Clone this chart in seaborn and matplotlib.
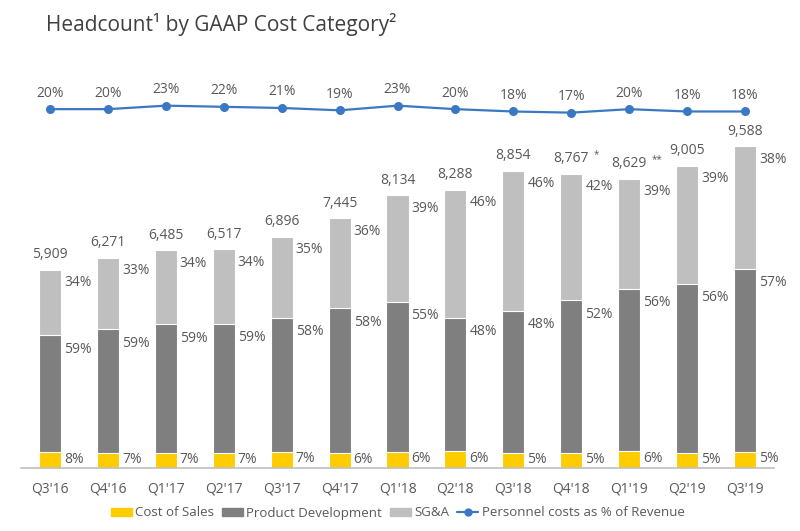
import matplotlib
matplotlib.use("Agg")
import matplotlib.pyplot as plt
import seaborn as sns
import pandas as pd
import numpy as np
from matplotlib.patches import Patch
from matplotlib.lines import Line2D

quarters = ["Q3'16", "Q4'16", "Q1'17", "Q2'17", "Q3'17", "Q4'17", "Q1'18",
            "Q2'18", "Q3'18", "Q4'18", "Q1'19", "Q2'19", "Q3'19"]
totals = [5909, 6271, 6485, 6517, 6896, 7445, 8134, 8288, 8854, 8767, 8629, 9005, 9588]
total_marks = ["", "", "", "", "", "", "", "", "", "*", "**", "", ""]
cost_of_sales_pct = [8, 7, 7, 7, 7, 6, 6, 6, 5, 5, 6, 5, 5]
product_dev_pct = [59, 59, 59, 59, 58, 58, 55, 48, 48, 52, 56, 56, 57]
sga_pct = [34, 33, 34, 34, 35, 36, 39, 46, 46, 42, 39, 39, 38]
personnel_pct = [20, 20, 23, 22, 21, 19, 23, 20, 18, 17, 20, 18, 18]

C_YEL = "#FFCC00"
C_DARK = "#7F7F7F"
C_LIGHT = "#BFBFBF"
C_BLUE = "#3A78C4"
C_TXT = "#595959"

sns.set_theme(style="white")
plt.rcParams["font.family"] = ["Open Sans", "DejaVu Sans"]

tot = np.array(totals, dtype=float)
cos = tot * np.array(cost_of_sales_pct) / 100
pdv = tot * np.array(product_dev_pct) / 100
cum_cos = cos
cum_pd = cos + pdv
cum_all = tot

df = pd.DataFrame({"q": quarters, "all": cum_all, "pd": cum_pd, "cos": cum_cos})

fig = plt.figure(figsize=(8, 5.31), dpi=100)
ax = fig.add_axes([21 / 800, 63 / 531, 753 / 800, 369 / 531])

bw = 22 / 57.9
for col, c in [("all", C_LIGHT), ("pd", C_DARK), ("cos", C_YEL)]:
    sns.barplot(data=df, x="q", y=col, order=quarters, color=c, width=bw,
                saturation=1, edgecolor="white", linewidth=0.8, ax=ax)

ax.set_xlim(-0.5, 12.5)
ax.set_ylim(0, 11000)
ax.set_xlabel("")
ax.set_ylabel("")
ax.set_yticks([])
for s in ["top", "right", "left"]:
    ax.spines[s].set_visible(False)
ax.spines["bottom"].set_color("#BFBFBF")
ax.spines["bottom"].set_linewidth(1.2)
ax.tick_params(axis="x", length=0, pad=10, labelsize=10, labelcolor=C_TXT)

fs = 10
for i in range(len(quarters)):
    xr = i + bw / 2
    ax.annotate(f"{sga_pct[i]}%", (xr, cum_all[i]), xytext=(3, -13),
                textcoords="offset pixels", ha="left", va="center",
                fontsize=fs, color=C_TXT)
    ax.annotate(f"{product_dev_pct[i]}%", (xr, cum_pd[i]), xytext=(3, -14),
                textcoords="offset pixels", ha="left", va="center",
                fontsize=fs, color=C_TXT)
    ax.annotate(f"{cost_of_sales_pct[i]}%", (xr, cum_cos[i] / 2), xytext=(3, 1),
                textcoords="offset pixels", ha="left", va="center",
                fontsize=fs, color=C_TXT)
    ax.annotate(f"{totals[i]:,}", (i, cum_all[i]), xytext=(0, 15),
                textcoords="offset pixels", ha="center", va="center",
                fontsize=fs, color=C_TXT)
    if total_marks[i]:
        ax.annotate(total_marks[i], (i, cum_all[i]), xytext=(22, 19),
                    textcoords="offset pixels", ha="left", va="center",
                    fontsize=7, color=C_TXT)

ax2 = ax.twinx()
ax2.set_position(ax.get_position())
sns.lineplot(x=np.arange(len(quarters)), y=personnel_pct, ax=ax2, color=C_BLUE,
             marker="o", markersize=6.5, markeredgewidth=0, linewidth=1.6)
ax2.set_ylim(-287.5, 28.7)
ax2.set_xlim(-0.5, 12.5)
ax2.set_yticks([])
for s in ["top", "right", "left", "bottom"]:
    ax2.spines[s].set_visible(False)
for i, v in enumerate(personnel_pct):
    ax2.annotate(f"{v}%", (i, v), xytext=(0, 16), textcoords="offset pixels",
                 ha="center", va="center", fontsize=fs, color=C_TXT)

fig.text(46 / 800, 1 - 24 / 531, "Headcount\u00b9 by GAAP Cost Category\u00b2",
         fontsize=15, color="#404040", ha="left", va="center")

handles = [Patch(color=C_YEL, label="Cost of Sales"),
           Patch(color=C_DARK, label="Product Development"),
           Patch(color=C_LIGHT, label="SG&A"),
           Line2D([0], [0], color=C_BLUE, marker="o", markersize=5, lw=1.6,
                  label="Personnel costs as % of Revenue")]
fig.legend(handles=handles, loc="center", bbox_to_anchor=(0.497, 1 - 513 / 531),
           ncol=4, frameon=False, fontsize=9.5, labelcolor=C_TXT,
           handlelength=1.6, handleheight=0.6, handletextpad=0.25, columnspacing=0.6)

fig.savefig("out.png", dpi=100)
